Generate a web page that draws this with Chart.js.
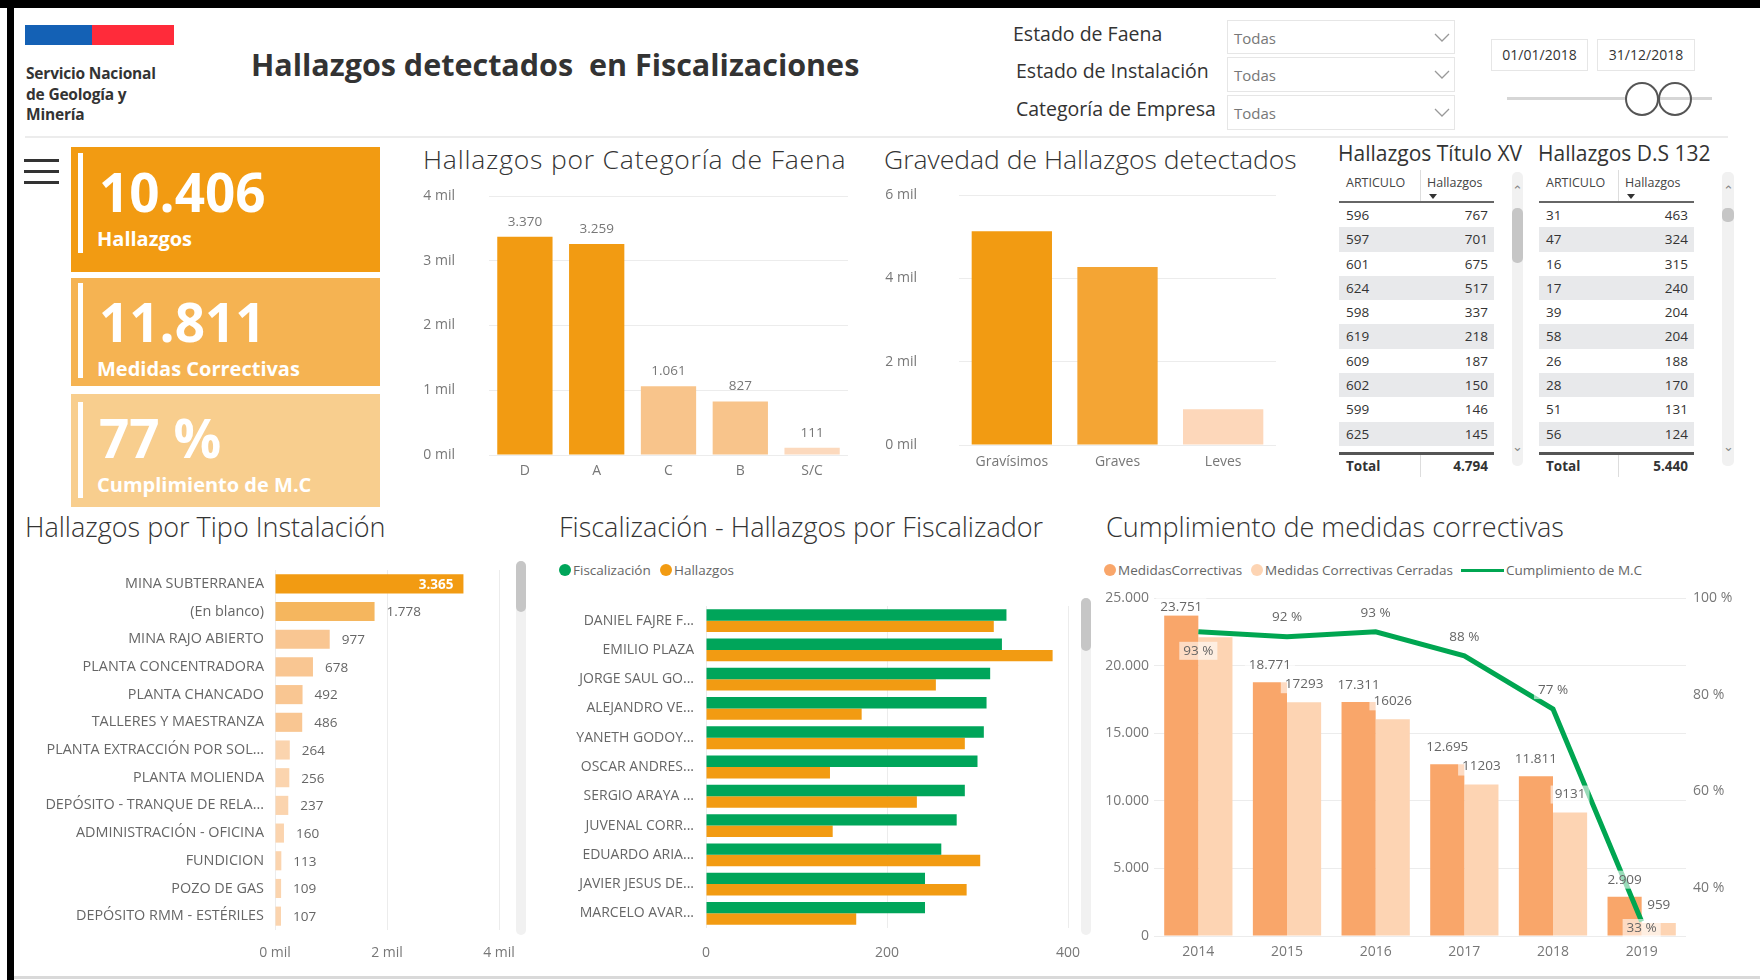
<!DOCTYPE html>
<html lang="es">
<head>
<meta charset="UTF-8">
<title>Hallazgos detectados en Fiscalizaciones</title>
<script src="https://cdn.jsdelivr.net/npm/chart.js"></script>
<style>
  body { margin:0; width:1760px; height:980px; background:#fff; font-family:'Open Sans', sans-serif; color:#333; overflow:hidden; position:relative; }
  .abs { position:absolute; }
  .cw { position:absolute; }
  .frame-top { left:0; top:0; width:1760px; height:8px; background:#000; }
  .frame-left { left:7px; top:0; width:7px; height:980px; background:#000; }
  .frame-bottom { left:14px; top:976px; width:1746px; height:3px; background:#d9d9d9; }
  .org { left:26px; top:63px; font-size:15.5px; line-height:20.5px; font-weight:700; letter-spacing:-0.2px; color:#333; }
  .main-title { left:251px; top:44px; font-size:30.5px; line-height:40px; font-weight:700; white-space:pre; color:#333; }
  .flt { font-size:19.5px; line-height:26px; color:#333; }
  .dd { left:1227px; width:228px; border:1px solid #e6e6e6; font-size:15px; color:#777; padding-left:6px; box-sizing:border-box; }
  .dd svg { position:absolute; left:206px; }
  .date { border:1px solid #e6e6e6; font-size:14px; line-height:30px; text-align:center; color:#333; box-sizing:border-box; }
  .knob { width:34px; height:34px; border:2px solid #555; border-radius:50%; background:#fff; box-sizing:border-box; }
  .sep { left:25px; top:136px; width:1703px; height:2px; background:#ececec; }
  .burger { left:24px; width:35px; height:3px; background:#333; }
  .card { left:71px; width:309px; color:#fff; }
  .card .bar { position:absolute; left:7px; width:5px; background:#fff; }
  .card .num { position:absolute; left:28px; font-size:53px; line-height:53px; font-weight:700; }
  .card .lbl { position:absolute; left:26px; font-size:20px; line-height:20px; font-weight:700; }
  .sec { font-size:26.5px; line-height:34px; font-weight:300; color:#333; white-space:nowrap; }
  .sec2 { font-size:27px; line-height:34px; font-weight:300; color:#333; white-space:nowrap; }
  .ttl { font-size:21px; line-height:28px; color:#333; white-space:nowrap; }
  .tbl { position:absolute; top:170px; font-size:13.5px; color:#333; }
  .tbl .row { display:flex; }
  .tbl .c1 { box-sizing:border-box; padding-left:7px; }
  .tbl .c2 { box-sizing:border-box; }
  .tbl .th { height:31px; border-bottom:2px solid #666; font-size:12.5px; color:#444; }
  .tbl .th span { padding-top:4px; line-height:18px; }
  .tbl .th .c2 { border-left:1px solid #ddd; padding-left:6px; position:relative; }
  .tbl .tri { position:absolute; left:8px; top:24px; width:0; height:0; border-left:4px solid transparent; border-right:4px solid transparent; border-top:5px solid #333; }
  .tbl .tr { height:24.3px; line-height:24.3px; }
  .tbl .tr.alt { background:#e8e9eb; }
  .tbl .tr .c2, .tbl .tt .c2 { text-align:right; padding-right:6px; }
  .tbl .gap { height:6px; }
  .tbl .tt { border-top:3px solid #555; height:22px; line-height:22px; font-weight:700; }
  .tbl .tt .c2 { border-left:1px solid #ddd; }
  .track { background:#f1f1f1; border-radius:5px; }
  .thumb { background:#c6c6c6; border-radius:5px; }
  .chev { font-size:13px; color:#888; line-height:12px; text-align:center; }
  .leg { font-size:13.5px; line-height:18px; color:#666; white-space:nowrap; }
  .dot { width:12px; height:12px; border-radius:50%; }
</style>
</head>
<body>
  <div class="abs frame-top"></div>
  <div class="abs frame-left"></div>
  <div class="abs frame-bottom"></div>

  <!-- logo + title -->
  <div class="abs" style="left:25px;top:25px;width:67px;height:20px;background:#1461b5"></div>
  <div class="abs" style="left:92px;top:25px;width:82px;height:20px;background:#ff2b3a"></div>
  <div class="abs org">Servicio Nacional<br>de Geología y<br>Minería</div>
  <div class="abs main-title">Hallazgos detectados  en Fiscalizaciones</div>

  <!-- filters -->
  <div class="abs flt" style="left:1013px;top:21px">Estado de Faena</div>
  <div class="abs flt" style="left:1016px;top:58px">Estado de Instalación</div>
  <div class="abs flt" style="left:1016px;top:96px">Categoría de Empresa</div>
  <div class="abs dd" style="top:20px;height:34px;line-height:34px">Todas<svg style="top:12px" width="16" height="10"><polyline points="1,1 8,8 15,1" fill="none" stroke="#999" stroke-width="1.3"/></svg></div>
  <div class="abs dd" style="top:57px;height:35px;line-height:35px">Todas<svg style="top:12px" width="16" height="10"><polyline points="1,1 8,8 15,1" fill="none" stroke="#999" stroke-width="1.3"/></svg></div>
  <div class="abs dd" style="top:95px;height:35px;line-height:35px">Todas<svg style="top:12px" width="16" height="10"><polyline points="1,1 8,8 15,1" fill="none" stroke="#999" stroke-width="1.3"/></svg></div>
  <div class="abs date" style="left:1491px;top:39px;width:97px;height:32px">01/01/2018</div>
  <div class="abs date" style="left:1597px;top:39px;width:98px;height:32px">31/12/2018</div>
  <div class="abs" style="left:1507px;top:97px;width:205px;height:3px;background:#d6d6d6"></div>
  <div class="abs knob" style="left:1625px;top:82px"></div>
  <div class="abs knob" style="left:1658px;top:82px;background:transparent"></div>
  <div class="abs sep"></div>

  <!-- menu + KPI cards -->
  <div class="abs burger" style="top:159px"></div>
  <div class="abs burger" style="top:170px"></div>
  <div class="abs burger" style="top:181px"></div>
  <div id="kpis"></div>

  <!-- titles -->
  <div class="abs sec" style="left:423px;top:142px;letter-spacing:0.8px">Hallazgos por Categoría de Faena</div>
  <div class="abs sec" style="left:884px;top:142px">Gravedad de Hallazgos detectados</div>
  <div class="abs ttl" style="left:1338px;top:139px">Hallazgos Título XV</div>
  <div class="abs ttl" style="left:1538px;top:139px">Hallazgos D.S 132</div>
  <div class="abs sec2" style="left:25px;top:510px">Hallazgos por Tipo Instalación</div>
  <div class="abs sec2" style="left:559px;top:510px">Fiscalización - Hallazgos por Fiscalizador</div>
  <div class="abs sec2" style="left:1106px;top:510px">Cumplimiento de medidas correctivas</div>

  <!-- tables -->
  <div class="tbl" id="tblXV" style="left:1339px"></div>
  <div class="tbl" id="tbl132" style="left:1539px"></div>
  <div class="abs track" style="left:1512px;top:172px;width:11px;height:294px"></div>
  <div class="abs thumb" style="left:1512px;top:208px;width:11px;height:55px"></div>
  <div class="abs chev" style="left:1512px;top:184px;width:11px">&#8963;</div>
  <div class="abs chev" style="left:1512px;top:440px;width:11px">&#8964;</div>
  <div class="abs track" style="left:1722px;top:172px;width:12px;height:294px"></div>
  <div class="abs thumb" style="left:1722px;top:208px;width:12px;height:14px"></div>
  <div class="abs chev" style="left:1722px;top:184px;width:12px">&#8963;</div>
  <div class="abs chev" style="left:1722px;top:440px;width:12px">&#8964;</div>

  <!-- legends -->
  <div class="abs dot" style="left:559px;top:564px;background:#00a55a"></div>
  <div class="abs leg" style="left:573px;top:561px">Fiscalización</div>
  <div class="abs dot" style="left:660px;top:564px;background:#f29b12"></div>
  <div class="abs leg" style="left:674px;top:561px">Hallazgos</div>
  <div class="abs dot" style="left:1104px;top:564px;background:#f9a66a"></div>
  <div class="abs leg" style="left:1118px;top:561px">MedidasCorrectivas</div>
  <div class="abs dot" style="left:1251px;top:564px;background:#fdd4b3"></div>
  <div class="abs leg" style="left:1265px;top:561px">Medidas Correctivas Cerradas</div>
  <div class="abs" style="left:1461px;top:569px;width:43px;height:3px;background:#00a651"></div>
  <div class="abs leg" style="left:1506px;top:561px">Cumplimiento de M.C</div>

  <!-- scrollbars of the bar lists -->
  <div class="abs track" style="left:516px;top:561px;width:10px;height:374px"></div>
  <div class="abs thumb" style="left:516px;top:561px;width:10px;height:51px"></div>
  <div class="abs track" style="left:1081px;top:598px;width:10px;height:337px"></div>
  <div class="abs thumb" style="left:1081px;top:598px;width:10px;height:53px"></div>

  <!-- charts -->
  <div class="cw" style="left:419px;top:182px;width:449px;height:303px"><canvas id="faenaChart"></canvas></div>
  <div class="cw" style="left:880px;top:181px;width:426px;height:294px"><canvas id="gravChart"></canvas></div>
  <div class="cw" style="left:20px;top:561px;width:495px;height:404px"><canvas id="tipoChart"></canvas></div>
  <div class="cw" style="left:560px;top:597px;width:522px;height:366px"><canvas id="fiscChart"></canvas></div>
  <div class="cw" style="left:1100px;top:586px;width:636px;height:380px"><canvas id="cumplChart"></canvas></div>

<script>
// KPI cards
const kpiValues = ['10.406', '11.811', '77 %'];
const kpiLabels = ['Hallazgos', 'Medidas Correctivas', 'Cumplimiento de M.C'];

// Hallazgos por Categoría de Faena
const faenaCats = ['D', 'A', 'C', 'B', 'S/C'];
const faenaHallazgos = [3370, 3259, 1061, 827, 111];

// Gravedad de Hallazgos detectados
const gravCats = ['Gravísimos', 'Graves', 'Leves'];
const gravHallazgos = [5130, 4270, 860];

// tables
const tituloXVArticulos = ['596', '597', '601', '624', '598', '619', '609', '602', '599', '625'];
const tituloXVHallazgos = [767, 701, 675, 517, 337, 218, 187, 150, 146, 145];
const tituloXVTotal = 4794;
const ds132Articulos = ['31', '47', '16', '17', '39', '58', '26', '28', '51', '56'];
const ds132Hallazgos = [463, 324, 315, 240, 204, 204, 188, 170, 131, 124];
const ds132Total = 5440;

// Hallazgos por Tipo Instalación
const instalaciones = ['MINA SUBTERRANEA', '(En blanco)', 'MINA RAJO ABIERTO', 'PLANTA CONCENTRADORA',
  'PLANTA CHANCADO', 'TALLERES Y MAESTRANZA', 'PLANTA EXTRACCIÓN POR SOL...', 'PLANTA MOLIENDA',
  'DEPÓSITO - TRANQUE DE RELA...', 'ADMINISTRACIÓN - OFICINA', 'FUNDICION', 'POZO DE GAS', 'DEPÓSITO RMM - ESTÉRILES'];
const instalacionHallazgos = [3365, 1778, 977, 678, 492, 486, 264, 256, 237, 160, 113, 109, 107];

// Fiscalización - Hallazgos por Fiscalizador
const fiscalizadores = ['DANIEL FAJRE F...', 'EMILIO PLAZA', 'JORGE SAUL GO...', 'ALEJANDRO VE...', 'YANETH GODOY...',
  'OSCAR ANDRES...', 'SERGIO ARAYA ...', 'JUVENAL CORR...', 'EDUARDO ARIA...', 'JAVIER JESUS DE...', 'MARCELO AVAR...'];
const fiscalizaciones = [332, 327, 314, 310, 307, 300, 286, 277, 260, 242, 242];
const fiscHallazgos = [318, 383, 254, 172, 286, 137, 233, 140, 303, 288, 166];

// Cumplimiento de medidas correctivas
const years = ['2014', '2015', '2016', '2017', '2018', '2019'];
const medidasCorrectivas = [23751, 18771, 17311, 12695, 11811, 2909];
const medidasCerradas = [22090, 17293, 16026, 11203, 9131, 959];
const cumplimientoPct = [93, 92, 93, 88, 77, 33];

// colours
const ORANGE = '#f29b12';
const GREEN = '#00a651';
const GRID = '#ececec';
const faenaColors = [ORANGE, ORANGE, '#f8c48b', '#f8c48b', '#fcd9bd'];
const gravColors = [ORANGE, '#f4a534', '#fdd7ba'];
const tipoColors = [ORANGE, '#f5b65e', '#f9c692', '#f9c692', '#f9c692', '#f9c692',
  '#fbd4ae', '#fbd4ae', '#fbd4ae', '#fbd4ae', '#fbd4ae', '#fbd4ae', '#fbd4ae'];

const fmt = v => String(v).replace(/\B(?=(\d{3})+(?!\d))/g, '.');
const mil = v => (v / 1000) + ' mil';
const fixWidth = w => s => { s.width = w; };
const fixHeight = h => s => { s.height = h; };
// label offset done with an invisible tick mark, so ticks.padding does not pad the chart area
const gap = (len, gridOpts) => Object.assign({ drawTicks: true, tickLength: len, tickColor: 'rgba(0,0,0,0)' }, gridOpts);

// KPI cards
const cardBoxes = [
  { top: 147, h: 125, bg: ORANGE, bar: [6, 100] },
  { top: 278, h: 108, bg: '#f5b352', bar: [5, 95] },
  { top: 394, h: 113, bg: '#f8ce8e', bar: [8, 96] }
];
document.getElementById('kpis').innerHTML = cardBoxes.map((c, i) =>
  `<div class="abs card" style="top:${c.top}px;height:${c.h}px;background:${c.bg}">
     <div class="bar" style="top:${c.bar[0]}px;height:${c.bar[1]}px"></div>
     <div class="num" style="top:${[18, 17, 17][i]}px">${kpiValues[i]}</div>
     <div class="lbl" style="top:${[82, 81, 81][i]}px">${kpiLabels[i]}</div>
   </div>`).join('');

// tables
function buildTable(id, arts, vals, total, w1, w2) {
  let html = `<div class="row th"><span class="c1" style="width:${w1}px">ARTICULO</span>` +
    `<span class="c2" style="width:${w2}px">Hallazgos<i class="tri"></i></span></div>`;
  arts.forEach((a, i) => {
    html += `<div class="row tr${i % 2 ? ' alt' : ''}"><span class="c1" style="width:${w1}px">${a}</span>` +
      `<span class="c2" style="width:${w2}px">${vals[i]}</span></div>`;
  });
  html += `<div class="gap"></div><div class="row tt"><span class="c1" style="width:${w1}px">Total</span>` +
    `<span class="c2" style="width:${w2}px">${fmt(total)}</span></div>`;
  document.getElementById(id).innerHTML = html;
}
buildTable('tblXV', tituloXVArticulos, tituloXVHallazgos, tituloXVTotal, 81, 74);
buildTable('tbl132', ds132Articulos, ds132Hallazgos, ds132Total, 79, 76);

// charts
Chart.defaults.font.family = "'Open Sans', sans-serif";
Chart.defaults.font.size = 14;
Chart.defaults.color = '#777';
Chart.defaults.animation = false;
Chart.defaults.plugins.legend.display = false;
Chart.defaults.plugins.tooltip.enabled = false;

function labelPlugin(id, draw) {
  return { id, afterDatasetsDraw(chart) { const ctx = chart.ctx; ctx.save(); draw(chart, ctx); ctx.restore(); } };
}

new Chart(document.getElementById('faenaChart'), {
  type: 'bar',
  data: { labels: faenaCats, datasets: [{ data: faenaHallazgos, backgroundColor: faenaColors, barPercentage: 0.77, categoryPercentage: 1 }] },
  options: {
    responsive: true, maintainAspectRatio: false,
    layout: { padding: { top: 14, right: 20 } },
    scales: {
      x: { grid: gap(8, { display: false }), border: { display: false }, ticks: { padding: 0 }, afterFit: fixHeight(30) },
      y: { min: 0, max: 4000, ticks: { stepSize: 1000, padding: 0, callback: mil },
           grid: gap(34, { color: GRID }), border: { display: false }, afterFit: fixWidth(70) }
    }
  },
  plugins: [labelPlugin('faenaLabels', (chart, ctx) => {
    ctx.font = "13.5px 'Open Sans'"; ctx.fillStyle = '#777'; ctx.textAlign = 'center'; ctx.textBaseline = 'middle';
    chart.getDatasetMeta(0).data.forEach((bar, i) => ctx.fillText(fmt(faenaHallazgos[i]), bar.x, bar.y - 15));
  })]
});

new Chart(document.getElementById('gravChart'), {
  type: 'bar',
  data: { labels: gravCats, datasets: [{ data: gravHallazgos, backgroundColor: gravColors, barPercentage: 0.76, categoryPercentage: 1 }] },
  options: {
    responsive: true, maintainAspectRatio: false,
    layout: { padding: { top: 14, right: 30 } },
    scales: {
      x: { grid: gap(9, { display: false }), border: { display: false }, ticks: { padding: 0 }, afterFit: fixHeight(30) },
      y: { min: 0, max: 6000, ticks: { stepSize: 2000, padding: 0, callback: mil },
           grid: gap(42, { color: GRID }), border: { display: false }, afterFit: fixWidth(79) }
    }
  }
});

new Chart(document.getElementById('tipoChart'), {
  type: 'bar',
  data: { labels: instalaciones, datasets: [{ data: instalacionHallazgos, backgroundColor: tipoColors, barPercentage: 0.69, categoryPercentage: 1 }] },
  options: {
    indexAxis: 'y',
    responsive: true, maintainAspectRatio: false,
    layout: { padding: { top: 9, right: 16 } },
    scales: {
      x: { min: 0, max: 4000, ticks: { stepSize: 2000, padding: 0, callback: mil },
           grid: gap(15, { color: GRID }), border: { display: false }, afterFit: fixHeight(35) },
      y: { grid: gap(11, { display: false }), border: { display: false },
           ticks: { padding: 0, color: '#666', autoSkip: false, font: { size: 14.4 } },
           afterFit: fixWidth(255) }
    }
  },
  plugins: [labelPlugin('tipoLabels', (chart, ctx) => {
    ctx.textBaseline = 'middle';
    chart.getDatasetMeta(0).data.forEach((bar, i) => {
      if (i === 0) {
        ctx.font = "bold 13.5px 'Open Sans'"; ctx.fillStyle = '#fff'; ctx.textAlign = 'right';
        ctx.fillText(fmt(instalacionHallazgos[i]), bar.x - 10, bar.y + 1);
      } else {
        ctx.font = "13.5px 'Open Sans'"; ctx.fillStyle = '#666'; ctx.textAlign = 'left';
        ctx.fillText(fmt(instalacionHallazgos[i]), bar.x + 12, bar.y + 1);
      }
    });
  })]
});

new Chart(document.getElementById('fiscChart'), {
  type: 'bar',
  data: {
    labels: fiscalizadores,
    datasets: [
      { label: 'Fiscalización', data: fiscalizaciones, backgroundColor: '#00a55a', barPercentage: 1, categoryPercentage: 0.78 },
      { label: 'Hallazgos', data: fiscHallazgos, backgroundColor: ORANGE, barPercentage: 1, categoryPercentage: 0.78 }
    ]
  },
  options: {
    indexAxis: 'y',
    responsive: true, maintainAspectRatio: false,
    layout: { padding: { top: 9, right: 14 } },
    scales: {
      x: { min: 0, max: 400, ticks: { stepSize: 200, padding: 0 },
           grid: gap(17, { color: GRID }), border: { display: false }, afterFit: fixHeight(35) },
      y: { grid: gap(12, { display: false }), border: { display: false }, ticks: { padding: 0, color: '#666', autoSkip: false },
           afterFit: fixWidth(146) }
    }
  }
});

function boxedText(ctx, text, x, y) {
  const w = ctx.measureText(text).width + 8;
  ctx.fillStyle = 'rgba(255,255,255,0.6)';
  ctx.fillRect(x - w / 2, y - 9, w, 18);
  ctx.fillStyle = '#666';
  ctx.fillText(text, x, y);
}

new Chart(document.getElementById('cumplChart'), {
  data: {
    labels: years,
    datasets: [
      { type: 'line', label: 'Cumplimiento de M.C', data: cumplimientoPct, yAxisID: 'y1', borderColor: GREEN,
        borderWidth: 5, pointRadius: 0, tension: 0, order: 0 },
      { type: 'bar', label: 'MedidasCorrectivas', data: medidasCorrectivas, backgroundColor: '#f9a66a',
        barPercentage: 1, categoryPercentage: 0.77, order: 1 },
      { type: 'bar', label: 'Medidas Correctivas Cerradas', data: medidasCerradas, backgroundColor: '#fdd4b3',
        barPercentage: 1, categoryPercentage: 0.77, order: 1 }
    ]
  },
  options: {
    responsive: true, maintainAspectRatio: false,
    layout: { padding: { top: 12 } },
    scales: {
      x: { grid: gap(8, { display: false }), border: { display: false }, ticks: { padding: 0 }, afterFit: fixHeight(30) },
      y: { position: 'left', min: 0, max: 25000, ticks: { stepSize: 5000, padding: 0, callback: fmt },
           grid: gap(5, { color: GRID }), border: { display: false }, afterFit: fixWidth(54) },
      y1: { position: 'right', min: 30, max: 100, ticks: { padding: 0, callback: v => v + ' %' },
            afterBuildTicks: s => { s.ticks = [40, 60, 80, 100].map(v => ({ value: v })); },
            grid: gap(7, { display: false }), border: { display: false }, afterFit: fixWidth(50) }
    }
  },
  plugins: [labelPlugin('cumplLabels', (chart, ctx) => {
    const area = chart.chartArea;
    ctx.font = "13.5px 'Open Sans'"; ctx.textAlign = 'center'; ctx.textBaseline = 'middle';
    chart.getDatasetMeta(1).data.forEach((bar, i) =>
      boxedText(ctx, fmt(medidasCorrectivas[i]), bar.x, Math.max(bar.y - 17, area.top + 9)));
    chart.getDatasetMeta(2).data.forEach((bar, i) => {
      if (i === 0) return; // hidden in the original, overlapped by the 93 % label
      boxedText(ctx, String(medidasCerradas[i]), bar.x, bar.y - 18);
    });
    const pts = chart.getDatasetMeta(0).data;
    pts.forEach((pt, i) => {
      const below = i === 0 || i === pts.length - 1;
      const y = below ? Math.min(pt.y + 19, area.bottom - 8) : pt.y - 19;
      boxedText(ctx, cumplimientoPct[i] + ' %', pt.x, y);
    });
  })]
});
</script>
</body>
</html>
